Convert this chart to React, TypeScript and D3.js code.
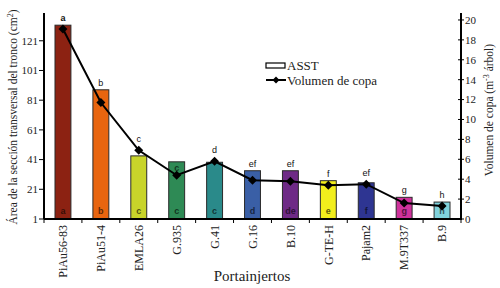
import React from "react";
import * as d3 from "d3";

const categories = ["PiAu56-83", "PiAu51-4", "EMLA26", "G.935", "G.41", "G.16", "B.10", "G-TE-H", "Pajam2", "M.9T337", "B.9"];
const asstValues = [131.5, 88, 43.5, 39.5, 39.2, 33.5, 33.5, 26.8, 25.4, 15.6, 12.4];
const volumeValues = [19.1, 11.7, 6.9, 4.4, 5.8, 3.9, 3.8, 3.4, 3.5, 1.6, 1.3];
const barColors = ["#8c2212", "#e8650f", "#c8d42a", "#2e8a55", "#2a8a8a", "#3a5fa6", "#6e2a86", "#f2ee1c", "#2e3592", "#cf329c", "#80d2dc"];
const barLetters = ["a", "b", "c", "c", "c", "d", "de", "e", "f", "g", "h"];
const volumeLetters = ["a", "b", "c", "c", "d", "ef", "ef", "f", "ef", "g", "h"];
const leftTicks = [1, 21, 41, 61, 81, 101, 121];
const rightTicks = [0, 2, 4, 6, 8, 10, 12, 14, 16, 18, 20];

const W = 500, H = 288;
const x0 = 44, x1 = 461, yBase = 219, yTop = 13;
const serif = "'Liberation Serif', 'Times New Roman', serif";
const sans = "'Liberation Sans', Arial, sans-serif";

export default function App() {
  const x = d3.scaleBand<string>().domain(categories).range([x0, x1]).paddingInner(0.58).paddingOuter(0.29);
  const yL = d3.scaleLinear().domain([1, 139.7]).range([yBase, yTop]);
  const yR = d3.scaleLinear().domain([0, 20.7]).range([yBase, yTop]);
  const step = x.step();
  const bw = x.bandwidth();
  const line = d3.line<number>()
    .x((_, i) => (x(categories[i]) as number) + bw / 2)
    .y((v) => yR(v));
  const boundaries = d3.range(categories.length + 1).map((i) => x0 + i * step);
  const diamond = (cx: number, cy: number, r: number) =>
    `M${cx},${cy - r}L${cx + r},${cy}L${cx},${cy + r}L${cx - r},${cy}Z`;
  const letterColor = (c: string) => d3.interpolateRgb(c, "#000")(0.6);

  return (
    <div style={{ position: "absolute", left: 0, top: 0 }}>
      <svg width={W} height={H} style={{ display: "block", background: "#fff" }}>
        {categories.map((c, i) => {
          const bx = x(c) as number;
          const by = yL(asstValues[i]);
          return (
            <rect key={c} x={bx} y={by} width={bw} height={yBase - by} fill={barColors[i]} stroke="#2a2a2a" strokeWidth={1} />
          );
        })}
        {categories.map((c, i) => (
          <text key={"bl" + c} x={(x(c) as number) + bw / 2} y={yBase - 5} textAnchor="middle" fontFamily={sans} fontSize={9}
            fontWeight="bold" fill={letterColor(barColors[i])}>
            {barLetters[i]}
          </text>
        ))}
        <path d={line(volumeValues) || ""} fill="none" stroke="#000" strokeWidth={2} />
        {volumeValues.map((v, i) => (
          <path key={"d" + i} d={diamond((x(categories[i]) as number) + bw / 2, yR(v), 4.5)} fill="#000" />
        ))}
        {categories.map((c, i) => {
          const by = yL(asstValues[i]);
          const py = yR(volumeValues[i]);
          const inside = py - by > 13;
          const ly = inside ? by + 9 : Math.min(by, py - 4) - 4;
          return (
            <text key={"tl" + c} x={(x(c) as number) + bw / 2} y={ly} textAnchor="middle" fontFamily={sans} fontSize={9}
              fontWeight={i === 0 || inside ? "bold" : "normal"} fill={inside ? letterColor(barColors[i]) : "#111"}>
              {volumeLetters[i]}
            </text>
          );
        })}
        <line x1={x0} x2={x0} y1={yTop} y2={yBase} stroke="#000" strokeWidth={2} />
        <line x1={x1} x2={x1} y1={yTop} y2={yBase} stroke="#000" strokeWidth={2} />
        <line x1={x0} x2={x1 + 1} y1={yBase} y2={yBase} stroke="#000" strokeWidth={2} />
        {boundaries.map((bx, i) => (
          <line key={"xt" + i} x1={bx} x2={bx} y1={yBase} y2={yBase + 4} stroke="#000" strokeWidth={1} />
        ))}
        {leftTicks.map((t) => (
          <g key={"lt" + t}>
            <line x1={x0 - 5} x2={x0} y1={yL(t)} y2={yL(t)} stroke="#000" strokeWidth={1} />
            <text x={x0 - 6} y={yL(t)} dy="0.35em" textAnchor="end" fontFamily={serif} fontSize={11} fill="#222">{t}</text>
          </g>
        ))}
        {rightTicks.map((t) => (
          <g key={"rt" + t}>
            <line x1={x1 - 3} x2={x1 + 3} y1={yR(t)} y2={yR(t)} stroke="#000" strokeWidth={1} />
            <text x={x1 + 4} y={yR(t)} dy="0.35em" textAnchor="start" fontFamily={serif} fontSize={11} fill="#222">{t}</text>
          </g>
        ))}
        {categories.map((c) => {
          const cx = (x(c) as number) + bw / 2;
          return (
            <text key={"xl" + c} transform={`translate(${cx},${yBase + 6}) rotate(-90)`} textAnchor="end" dy="0.35em"
              fontFamily={serif} fontSize={12} fill="#222">{c}</text>
          );
        })}
        <text x={252} y={281} textAnchor="middle" fontFamily={serif} fontSize={15} fill="#222">Portainjertos</text>
        <text transform={`translate(13,117) rotate(-90)`} textAnchor="middle" dy="0.35em" fontFamily={serif} fontSize={11.5} fill="#222">
          Área de la sección transversal del tronco (cm<tspan dy="-4" fontSize={8}>2</tspan><tspan dy="4">)</tspan>
        </text>
        <text transform={`translate(489,110) rotate(-90)`} textAnchor="middle" dy="0.35em" fontFamily={serif} fontSize={11.5} fill="#222">
          Volumen de copa (m<tspan dy="-4" fontSize={8}>-3</tspan><tspan dy="4"> árbol)</tspan>
        </text>
        <rect x={266} y={63} width={19} height={5} fill="#fff" stroke="#000" strokeWidth={1.2} />
        <text x={287} y={70} fontFamily={serif} fontSize={13} fill="#222">ASST</text>
        <line x1={266} x2={286} y1={80} y2={80} stroke="#000" strokeWidth={2} />
        <path d={diamond(276, 80, 3.5)} fill="#000" />
        <text x={287} y={84.5} fontFamily={serif} fontSize={13} fill="#222">Volumen de copa</text>
      </svg>
    </div>
  );
}
